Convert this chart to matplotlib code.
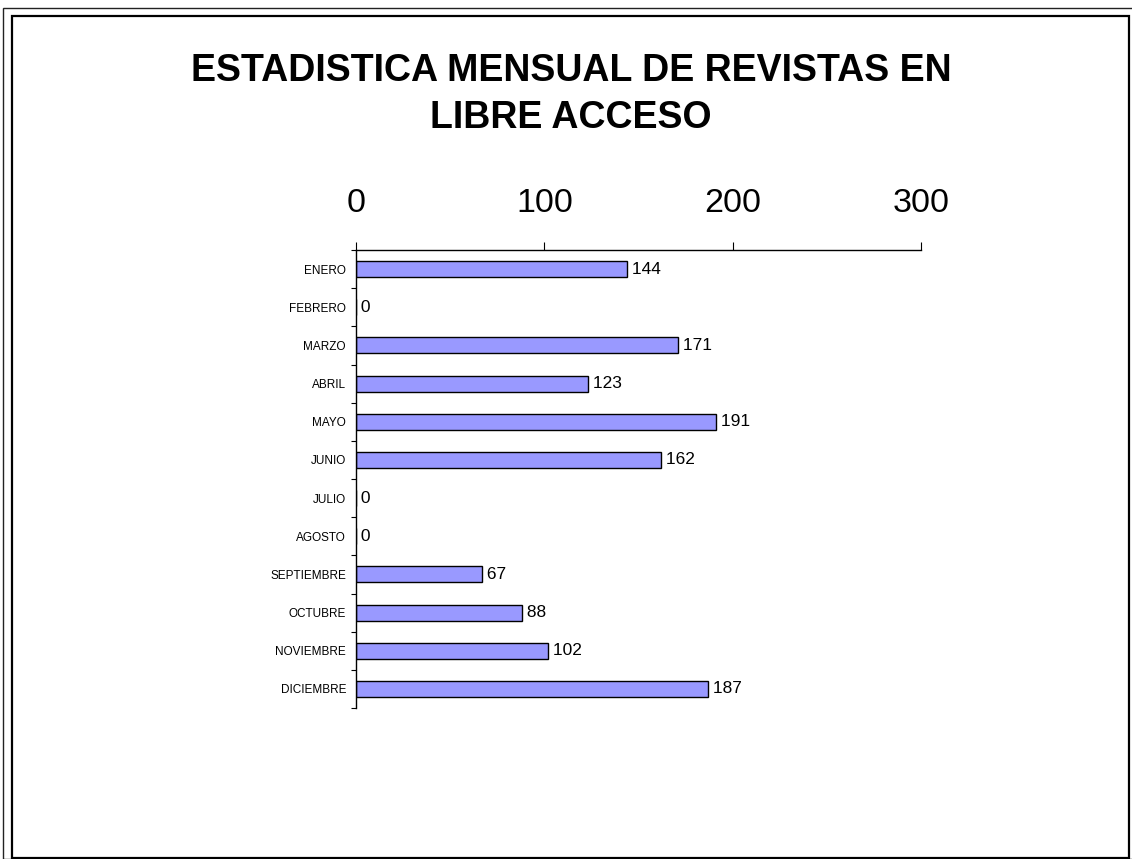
import matplotlib
matplotlib.use("Agg")
import matplotlib.pyplot as plt
from matplotlib.patches import Rectangle
import numpy as np

months = ["ENERO", "FEBRERO", "MARZO", "ABRIL", "MAYO", "JUNIO", "JULIO",
          "AGOSTO", "SEPTIEMBRE", "OCTUBRE", "NOVIEMBRE", "DICIEMBRE"]
values = [144, 0, 171, 123, 191, 162, 0, 0, 67, 88, 102, 187]
x_ticks = [0, 100, 200, 300]
title = "ESTADISTICA MENSUAL DE REVISTAS EN\nLIBRE ACCESO"

plt.rcParams['font.family'] = ['Liberation Sans', 'DejaVu Sans']

W, H = 1132, 859
fig = plt.figure(figsize=(W / 100, H / 100), dpi=100)

# frames
fig.patches.append(Rectangle((3 / W, 0), 1.2, 1 - 8 / H, transform=fig.transFigure,
                             fill=False, edgecolor='#222222', linewidth=1.0))
fig.patches.append(Rectangle((12 / W, 1 / H), (1129 - 12) / W, (858 - 16) / H,
                             transform=fig.transFigure, fill=False,
                             edgecolor='black', linewidth=1.6))

left, right = 356 / W, 921 / W
top, bottom = 1 - 250 / H, 1 - 708 / H
ax = fig.add_axes([left, bottom, right - left, top - bottom])

y = np.arange(len(months))
ax.barh(y, values, height=0.42, color='#9999FF', edgecolor='black', linewidth=1.0)
ax.set_xlim(0, 300)
ax.set_ylim(len(months) - 0.5, -0.5)

for yi, v in zip(y, values):
    ax.text(v, yi, f" {v}", va='center', ha='left', fontsize=12.5)

ax.spines['right'].set_visible(False)
ax.spines['bottom'].set_visible(False)
for s in ('top', 'left'):
    ax.spines[s].set_linewidth(1.0)

ax.xaxis.tick_top()
ax.set_xticks(x_ticks)
ax.set_xticklabels([str(t) for t in x_ticks], fontsize=24.5)
ax.tick_params(axis='x', direction='out', length=6, width=0.8, pad=16)

ax.set_yticks(y)
ax.set_yticklabels(months, fontsize=8.5)
ax.tick_params(axis='y', which='major', length=0, pad=7.2)
ax.set_yticks(np.arange(len(months) + 1) - 0.5, minor=True)
ax.tick_params(axis='y', which='minor', direction='out', length=3.6, width=0.8)

title_lines = title.split("\n")
baselines = [81, 127.5]
for line, b in zip(title_lines, baselines):
    fig.text(571 / W, 1 - b / H, line, ha='center', va='baseline',
             fontsize=27, fontweight='bold')

fig.savefig("out.png", dpi=100)
